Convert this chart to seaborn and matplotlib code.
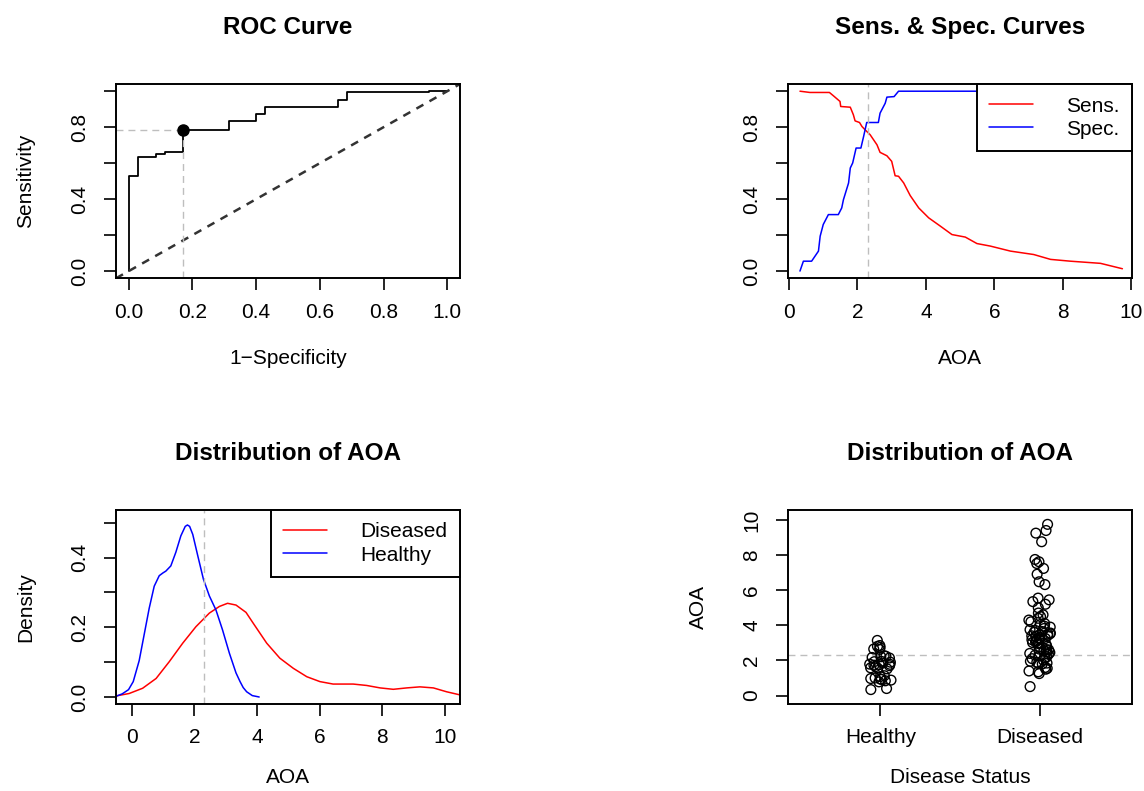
import numpy as np
import pandas as pd
import matplotlib
matplotlib.use("Agg")
import matplotlib.pyplot as plt
import seaborn as sns

sns.set_theme(style="ticks")
plt.rcParams["font.family"] = ["Liberation Sans", "DejaVu Sans"]
plt.rcParams["axes.edgecolor"] = "black"
plt.rcParams["axes.linewidth"] = 1.4
plt.rcParams["xtick.color"] = "black"
plt.rcParams["ytick.color"] = "black"
plt.rcParams["text.color"] = "black"
plt.rcParams["axes.labelcolor"] = "black"

# ROC curve corners (1-specificity, sensitivity)
roc_fpr = [0.0, 0.0, 0.029, 0.086, 0.114, 0.171, 0.314, 0.400, 0.429, 0.657, 0.686, 0.943, 1.0]
roc_tpr = [0.0, 0.527, 0.636, 0.651, 0.664, 0.786, 0.836, 0.874, 0.913, 0.952, 0.993, 1.0, 1.0]
best_fpr = 0.171
best_tpr = 0.786
cutoff = 2.3

# sensitivity / specificity against AOA threshold
sens_x = [0.32, 0.61, 1.18, 1.30, 1.49, 1.51, 1.79, 1.88, 1.93, 2.06, 2.13, 2.22, 2.37, 2.57,
          2.66, 2.86, 3.00, 3.10, 3.20, 3.35, 3.54, 3.79, 4.08, 4.42, 4.76, 5.15, 5.49, 5.88,
          6.47, 7.15, 7.64, 8.22, 9.10, 9.74]
sens_y = [1.0, 0.993, 0.993, 0.974, 0.943, 0.915, 0.911, 0.869, 0.835, 0.826, 0.804, 0.786,
          0.758, 0.702, 0.660, 0.641, 0.610, 0.530, 0.527, 0.490, 0.420, 0.351, 0.296, 0.250,
          0.203, 0.189, 0.153, 0.139, 0.111, 0.092, 0.065, 0.055, 0.043, 0.013]
spec_x = [0.32, 0.42, 0.66, 0.86, 0.91, 1.00, 1.15, 1.44, 1.54, 1.59, 1.74, 1.79, 1.86, 1.96,
          2.10, 2.18, 2.27, 2.61, 2.66, 2.81, 2.86, 3.07, 3.20, 9.74]
spec_y = [0.0, 0.055, 0.055, 0.111, 0.194, 0.259, 0.314, 0.314, 0.351, 0.397, 0.490, 0.573,
          0.601, 0.684, 0.684, 0.749, 0.826, 0.826, 0.878, 0.933, 0.967, 0.970, 1.0, 1.0]

# density curves
healthy_dx = [-0.50, -0.30, -0.10, 0.05, 0.24, 0.40, 0.56, 0.72, 0.88, 1.00, 1.09, 1.25, 1.41,
              1.57, 1.71, 1.78, 1.85, 1.95, 2.11, 2.29, 2.48, 2.69, 2.90, 3.12, 3.33, 3.46,
              3.56, 3.67, 3.85, 4.07]
healthy_dy = [0.003, 0.010, 0.022, 0.045, 0.105, 0.180, 0.255, 0.318, 0.348, 0.356, 0.361,
              0.376, 0.415, 0.462, 0.489, 0.493, 0.489, 0.466, 0.405, 0.338, 0.290, 0.250,
              0.193, 0.126, 0.070, 0.045, 0.028, 0.016, 0.005, 0.001]
diseased_dx = [-0.50, -0.08, 0.35, 0.78, 1.20, 1.63, 2.05, 2.48, 2.80, 3.06, 3.33, 3.65, 3.88,
               4.31, 4.73, 5.16, 5.59, 6.01, 6.43, 7.07, 7.50, 7.93, 8.35, 8.78, 9.20, 9.63,
               10.05, 10.48]
diseased_dy = [0.004, 0.011, 0.026, 0.054, 0.102, 0.155, 0.202, 0.241, 0.260, 0.269, 0.264,
               0.243, 0.212, 0.155, 0.112, 0.083, 0.059, 0.045, 0.038, 0.038, 0.034, 0.027,
               0.023, 0.027, 0.030, 0.027, 0.016, 0.007]

# raw AOA values per group
healthy_aoa = [0.34, 0.40, 0.78, 0.84, 0.88, 0.92, 0.95, 0.97, 1.00, 1.08, 1.13, 1.52, 1.56,
               1.58, 1.65, 1.70, 1.73, 1.76, 1.78, 1.79, 1.85, 1.90, 1.93, 1.95, 2.14, 2.17,
               2.21, 2.24, 2.27, 2.63, 2.65, 2.74, 2.80, 2.85, 3.14]
diseased_aoa = [9.75, 9.40, 9.25, 8.76, 7.75, 7.62, 7.52, 7.24, 6.91, 6.48, 6.32, 5.55, 5.45,
                5.35, 5.20, 5.00, 4.70, 4.60, 4.50, 4.40, 4.30, 4.20, 4.10, 4.05, 3.95, 3.90,
                3.82, 3.75, 3.70, 3.65, 3.60, 3.56, 3.52, 3.50, 3.45, 3.42, 3.40, 3.37, 3.30,
                3.25, 3.22, 3.18, 3.15, 3.10, 3.05, 3.02, 3.00, 2.95, 2.90, 2.80, 2.70, 2.65,
                2.62, 2.60, 2.55, 2.50, 2.45, 2.40, 2.35, 2.30, 2.25, 2.20, 2.15, 2.10, 2.00,
                1.95, 1.90, 1.85, 1.82, 1.80, 1.60, 1.55, 1.50, 1.40, 1.35, 1.25, 0.51]
groups = ["Healthy", "Diseased"]

FS = 15
TITLE_FS = 17.5
GRAY = "#BEBEBE"


def r_style(ax):
    for sp in ax.spines.values():
        sp.set_visible(True)
        sp.set_color("black")
        sp.set_linewidth(1.4)
    ax.tick_params(direction="out", length=8.5, width=1.2, labelsize=FS, colors="black")
    ax.tick_params(axis="x", pad=9)
    ax.tick_params(axis="y", pad=11)
    ax.grid(False)


def unit_yaxis(ax):
    ax.set_ylim(-0.04, 1.04)
    ax.set_yticks([0.0, 0.2, 0.4, 0.6, 0.8, 1.0])
    ax.set_yticklabels(["0.0", "", "0.4", "", "0.8", ""], rotation=90, va="center")


def r_legend(ax):
    leg = ax.legend(loc="upper right", fontsize=FS, frameon=True, fancybox=False, framealpha=1,
                    edgecolor="black", borderaxespad=0, borderpad=0.6, handlelength=2.1,
                    handletextpad=1.6, labelspacing=0.2)
    leg.get_frame().set_linewidth(1.4)


fig = plt.figure(figsize=(11.44, 7.91), dpi=100)
ax1 = fig.add_axes([0.1014, 0.6482, 0.3007, 0.2456])
ax2 = fig.add_axes([0.6891, 0.6482, 0.3007, 0.2456])
ax3 = fig.add_axes([0.1014, 0.1100, 0.3007, 0.2453])
ax4 = fig.add_axes([0.6891, 0.1100, 0.3007, 0.2453])

# ROC curve
r_style(ax1)
ax1.plot(roc_fpr, roc_tpr, drawstyle="steps-post", color="black", lw=1.3)
ax1.axline((0, 0), (1, 1), color="#333333", lw=1.8, linestyle=(0, (3.2, 2.8)))
ax1.plot([-0.04, best_fpr], [best_tpr, best_tpr], color=GRAY, lw=1, linestyle=(0, (5, 3.6)))
ax1.plot([best_fpr, best_fpr], [-0.04, best_tpr], color=GRAY, lw=1, linestyle=(0, (5, 3.6)))
ax1.plot([best_fpr], [best_tpr], "o", color="black", ms=8)
ax1.set_xlim(-0.04, 1.04)
ax1.set_xticks([0.0, 0.2, 0.4, 0.6, 0.8, 1.0])
ax1.set_xticklabels(["0.0", "0.2", "0.4", "0.6", "0.8", "1.0"])
unit_yaxis(ax1)
ax1.set_xlabel("1\u2212Specificity", fontsize=FS, labelpad=20)
ax1.set_ylabel("Sensitivity", fontsize=FS, labelpad=25)
ax1.set_title("ROC Curve", fontsize=TITLE_FS, fontweight="bold", pad=36)

# sensitivity and specificity against threshold
r_style(ax2)
ax2.plot(sens_x, sens_y, color="#FF0000", lw=1.1, label="Sens.")
ax2.plot(spec_x, spec_y, color="#0000FF", lw=1.1, label="Spec.")
ax2.axvline(cutoff, color=GRAY, lw=1, linestyle=(0, (5, 3.6)))
ax2.set_xlim(-0.02, 10.03)
ax2.set_xticks([0, 2, 4, 6, 8, 10])
unit_yaxis(ax2)
ax2.set_xlabel("AOA", fontsize=FS, labelpad=20)
ax2.set_title("Sens. & Spec. Curves", fontsize=TITLE_FS, fontweight="bold", pad=36)
r_legend(ax2)

# density of AOA by group
r_style(ax3)
ax3.plot(diseased_dx, diseased_dy, color="#FF0000", lw=1.1, label="Diseased")
ax3.plot(healthy_dx, healthy_dy, color="#0000FF", lw=1.1, label="Healthy")
ax3.axvline(cutoff, color=GRAY, lw=1, linestyle=(0, (5, 3.6)))
ax3.set_xlim(-0.5, 10.48)
ax3.set_ylim(-0.019, 0.536)
ax3.set_xticks([0, 2, 4, 6, 8, 10])
ax3.set_yticks([0.0, 0.1, 0.2, 0.3, 0.4, 0.5])
ax3.set_yticklabels(["0.0", "", "0.2", "", "0.4", ""], rotation=90, va="center")
ax3.set_xlabel("AOA", fontsize=FS, labelpad=15)
ax3.set_ylabel("Density", fontsize=FS, labelpad=25)
ax3.set_title("Distribution of AOA", fontsize=TITLE_FS, fontweight="bold", pad=36)
r_legend(ax3)

# strip chart of AOA by disease status
df = pd.DataFrame({
    "status": ["Healthy"] * len(healthy_aoa) + ["Diseased"] * len(diseased_aoa),
    "AOA": healthy_aoa + diseased_aoa,
})
np.random.seed(7)
sns.stripplot(data=df, x="status", y="AOA", order=groups, jitter=0.07, size=7,
              color="black", linewidth=1, ax=ax4)
for coll in ax4.collections:
    coll.set_facecolor("none")
    coll.set_edgecolor("black")
    coll.set_linewidth(1.0)
r_style(ax4)
ax4.axhline(cutoff, color=GRAY, lw=1, linestyle=(0, (5, 3.6)))
ax4.set_xlim(-0.576, 1.578)
ax4.set_ylim(-0.48, 10.57)
ax4.set_yticks([0, 2, 4, 6, 8, 10])
ax4.set_yticklabels(["0", "2", "4", "6", "8", "10"], rotation=90, va="center")
ax4.set_xlabel("Disease Status", fontsize=FS, labelpad=15)
ax4.set_ylabel("AOA", fontsize=FS, labelpad=25)
ax4.set_title("Distribution of AOA", fontsize=TITLE_FS, fontweight="bold", pad=36)

fig.savefig("out.png", dpi=100, facecolor="white")
